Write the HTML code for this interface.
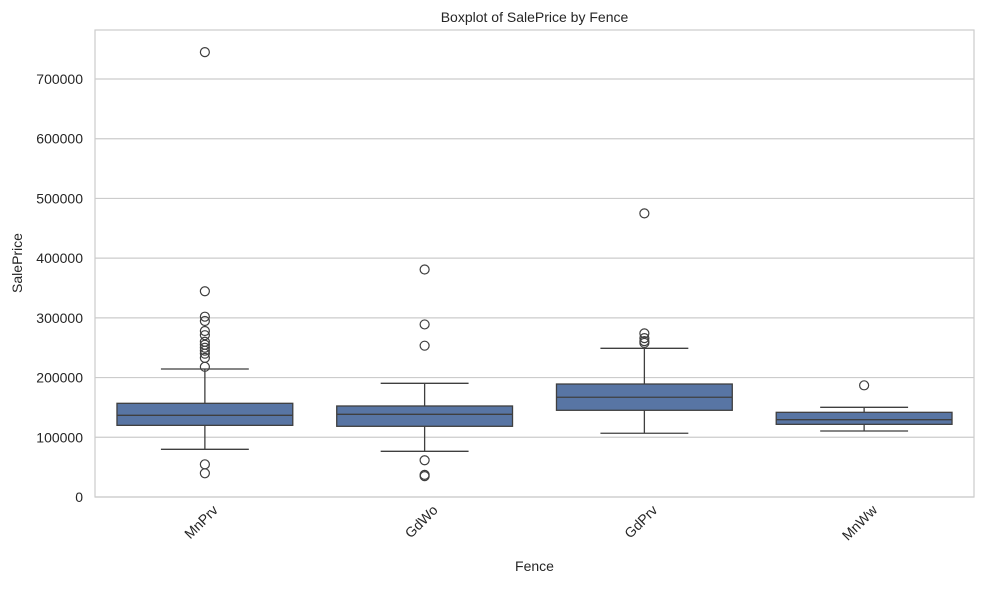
<!DOCTYPE html>
<html><head><meta charset="utf-8"><style>
body{margin:0;background:#fff;font-family:"Liberation Sans",Arial,sans-serif}
svg text{font-family:"Liberation Sans",Arial,sans-serif;fill:#262626}
</style></head><body>
<svg id="chart" width="984" height="584">
<text x="534.5" y="22" font-size="14" text-anchor="middle">Boxplot of SalePrice by Fence</text>
<text x="534.5" y="571" font-size="14" text-anchor="middle">Fence</text>
<text x="0" y="0" font-size="14" text-anchor="middle" transform="translate(22,263) rotate(-90)">SalePrice</text>
<g id="grid"></g><g id="marks"></g>
<rect x="95" y="30" width="879" height="467" fill="none" stroke="#cccccc" stroke-width="1.2"/>
</svg>
<script>
const categories=["MnPrv","GdWo","GdPrv","MnWw"];
const q1=[120000,118400,145200,121700];
const medians=[136800,138500,167000,129500];
const q3=[156900,152400,189200,141800];
const whiskerLow=[79900,76500,106700,110500];
const whiskerHigh=[214400,190400,249000,150200];
const outliers=[
 [745000,344500,302000,294700,278000,271000,260000,255000,250000,245000,240000,233000,218000,54700,39700],
 [381000,289000,253400,61500,37000,35000],
 [475000,274000,266000,261000,258000],
 [187000]
];
const yTicks=[0,100000,200000,300000,400000,500000,600000,700000];
const L=95,R=974,T=30,B=497;
const y=v=>B-v*(B-79)/700000;
const band=(R-L)/categories.length;
const x=i=>L+band*(i+0.5);
const NS="http://www.w3.org/2000/svg";
function mk(tag,attrs,parent){const e=document.createElementNS(NS,tag);for(const k in attrs)e.setAttribute(k,attrs[k]);parent.appendChild(e);return e;}
const svg=document.getElementById('chart'),grid=document.getElementById('grid'),marks=document.getElementById('marks');
yTicks.forEach(t=>{
 const l=mk('line',{x1:L,x2:R,y1:y(t),y2:y(t),stroke:'#cccccc','stroke-width':1.2},grid);
 
 
 const tx=mk('text',{x:L-12,y:y(t)+5,'font-size':14,'text-anchor':'end'},svg);
 tx.textContent=t;
 
 
});
categories.forEach((c,i)=>{
 const cx=x(i),w=band*0.8,c2='#3f3f3f';
 const g=mk('g',{},marks);
 
 
 mk('line',{x1:cx,x2:cx,y1:y(q3[i]),y2:y(whiskerHigh[i]),stroke:c2,'stroke-width':1.3},g);
 mk('line',{x1:cx,x2:cx,y1:y(q1[i]),y2:y(whiskerLow[i]),stroke:c2,'stroke-width':1.3},g);
 mk('line',{x1:cx-w/4,x2:cx+w/4,y1:y(whiskerHigh[i]),y2:y(whiskerHigh[i]),stroke:c2,'stroke-width':1.3},g);
 mk('line',{x1:cx-w/4,x2:cx+w/4,y1:y(whiskerLow[i]),y2:y(whiskerLow[i]),stroke:c2,'stroke-width':1.3},g);
 mk('rect',{x:cx-w/2,y:y(q3[i]),width:w,height:y(q1[i])-y(q3[i]),fill:'#5875a4',stroke:c2,'stroke-width':1.3},g);
 mk('line',{x1:cx-w/2,x2:cx+w/2,y1:y(medians[i]),y2:y(medians[i]),stroke:c2,'stroke-width':1.3},g);
 outliers[i].forEach(v=>{
  const o=mk('circle',{cx:cx,cy:y(v),r:4.5,fill:'none',stroke:c2,'stroke-width':1.2},g);
  
  
 });
 const tx=mk('text',{x:0,y:0,'font-size':14,'text-anchor':'end',transform:`translate(${cx+14},${511}) rotate(-45)`},svg);
 tx.textContent=c;
 
 
});
</script>
</body></html>
